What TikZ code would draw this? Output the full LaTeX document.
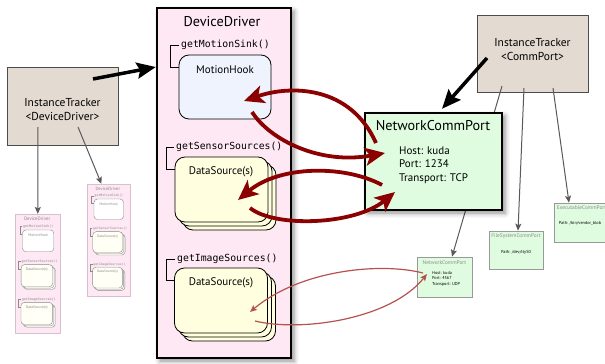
\documentclass[tikz,border=0pt]{standalone}
\usepackage{fontspec}
\setmainfont{PT Sans}
\setmonofont{DejaVu Sans Mono}
\usetikzlibrary{arrows.meta}
\usetikzlibrary{shadows.blur}
\definecolor{ddpink}{HTML}{FDE8F3}
\definecolor{hookblue}{HTML}{EEF3FD}
\definecolor{srcyellow}{HTML}{FFFFE0}
\definecolor{portgreen}{HTML}{E0FCE0}
\definecolor{trackbeige}{HTML}{E3DBD2}
\definecolor{darkred}{HTML}{8B0000}
\definecolor{softred}{HTML}{B5524F}
\definecolor{minigray}{HTML}{8A8A8A}
\definecolor{minipink}{HTML}{D9BFD0}
\tikzstyle{ddframe} = [draw, line width=2.4pt, fill=ddpink, minimum width=134pt, minimum height=350pt, inner sep=0pt]
\tikzstyle{ddtitle} = [font=\fontsize{14.2}{16}\selectfont, inner sep=0pt]
\tikzstyle{ddcall} = [font=\ttfamily\fontsize{9.8}{11}\selectfont, anchor=west, inner sep=2pt]
\tikzstyle{ddlabel} = [font=\fontsize{11}{13}\selectfont, inner sep=0pt]
\tikzstyle{ddhook} = [draw, line width=0.8pt, fill=hookblue, rounded corners=10pt, minimum width=92pt, minimum height=64pt, inner sep=0pt]
\tikzstyle{ddsrc} = [draw, line width=0.8pt, fill=srcyellow, rounded corners=10pt, minimum width=93pt, minimum height=65pt, inner sep=0pt]
\tikzstyle{ddbracket} = [line width=0.8pt]
\tikzstyle{tracker} = [draw=black!70, line width=0.8pt, fill=trackbeige, minimum width=111pt, minimum height=78pt, inner sep=0pt]
\tikzstyle{tracktext} = [font=\fontsize{11.5}{14}\selectfont, align=center, inner sep=0pt]
\tikzstyle{portbox} = [draw, line width=2.4pt, fill=portgreen, minimum width=137pt, minimum height=97pt, inner sep=0pt, blur shadow={shadow xshift=3pt, shadow yshift=-3pt, shadow blur radius=5pt, shadow opacity=45}]
\tikzstyle{porttext} = [font=\fontsize{11}{13.5}\selectfont, align=left, anchor=west, inner sep=0pt]
\tikzstyle{smallport} = [draw=black!40, line width=0.6pt, fill=portgreen, inner sep=0pt]
\tikzstyle{smalltitle} = [font=\fontsize{5.4}{6}\selectfont, text=black!45, inner sep=0pt]
\tikzstyle{smalltext} = [font=\fontsize{4.3}{5.5}\selectfont, align=left, inner sep=0pt]
\tikzstyle{owner} = [line width=3.5pt, -{Stealth[length=19pt,width=16pt,inset=3pt]}]
\tikzstyle{flow} = [line width=3.8pt, darkred, -{Stealth[length=20pt,width=18pt,inset=5pt]}]
\tikzstyle{thinflow} = [line width=1.2pt, softred, -{Stealth[length=7pt,width=6pt,inset=1.5pt]}]
\tikzstyle{member} = [line width=1pt, black!65, -{Stealth[length=7pt,width=6pt,inset=1.5pt]}]
% one DeviceDriver, drawn from its top left corner
\newcommand{\devicedriver}[1]{%
  \node[ddframe] (#1frame) at (67,175) {};
  \node[ddtitle] (#1title) at (65,14) {DeviceDriver};
  % motion sink
  \node[ddcall] (#1sinkcall) at (22,37) {getMotionSink()};
  \node[ddhook] (#1hook) at (68,79) {};
  \node[ddlabel] (#1hooklabel) at (68,62) {MotionHook};
  \draw[ddbracket] (#1sinkcall.west) -| ([xshift=-8pt,yshift=-13pt]#1hook.north west) -- ([yshift=-13pt]#1hook.north west);
  % sensor sources
  \node[ddcall] (#1sensorcall) at (17,139) {getSensorSources()};
  \node[ddsrc] (#1sensorC) at (72.5,189.5) {};
  \node[ddsrc] (#1sensorB) at (68.5,185.5) {};
  \node[ddsrc] (#1sensor) at (64.5,181.5) {};
  \node[ddlabel] (#1sensorlabel) at (64,164) {DataSource(s)};
  \draw[ddbracket] (#1sensorcall.west) -| ([xshift=-8pt,yshift=-13pt]#1sensor.north west) -- ([yshift=-13pt]#1sensor.north west);
  % image sources
  \node[ddcall] (#1imagecall) at (18,251) {getImageSources()};
  \node[ddsrc] (#1imageC) at (72,300.5) {};
  \node[ddsrc] (#1imageB) at (68,296.5) {};
  \node[ddsrc] (#1image) at (64,292.5) {};
  \node[ddlabel] (#1imagelabel) at (64,275) {DataSource(s)};
  \draw[ddbracket] (#1imagecall.west) -| ([xshift=-8pt,yshift=-13pt]#1image.north west) -- ([yshift=-13pt]#1image.north west);
}
\tikzstyle{mini} = [transform shape,
  ddframe/.append style={draw=minipink, line width=0.6pt},
  ddtitle/.append style={text=minigray},
  ddcall/.append style={text=minigray},
  ddlabel/.append style={text=minigray},
  ddhook/.append style={draw=minigray, line width=0.4pt, fill=white, rounded corners=3.4pt},
  ddsrc/.append style={draw=minigray, line width=0.4pt, fill=srcyellow!30, rounded corners=3.4pt},
  ddbracket/.style={draw=minigray, line width=0.3pt}]

\begin{document}
\begin{tikzpicture}[x=1pt,y=-1pt]
\useasboundingbox (0,0) rectangle (605,364);
% trackers
\node[tracker] (trackdd) at (62.5,106) {};
\node[tracktext] (trackddlabel) at (62.5,110) {InstanceTracker\\<DeviceDriver>};
\node[tracker, minimum height=77pt] (trackcomm) at (532.5,53.5) {};
\node[tracktext] (trackcommlabel) at (532.5,50) {InstanceTracker\\<CommPort>};
% small instances
\begin{scope}[shift={(15,214)}, scale=0.34, mini]
  \devicedriver{miniA}
\end{scope}
\begin{scope}[shift={(87,184)}, scale=0.32, mini]
  \devicedriver{miniB}
\end{scope}
\node[smallport, minimum width=55pt, minimum height=40pt] (udpport) at (444.5,277) {};
\node[smalltitle] (udptitle) at (444.5,263) {NetworkCommPort};
\node[smalltext, anchor=west] (udptext) at (432,278.5) {Host: kuda\\Port: 4567\\Transport: UDP};
\node[smallport, minimum width=54pt, minimum height=38pt] (fileport) at (516,250) {};
\node[smalltitle] (filetitle) at (516,236) {FileSystemCommPort};
\node[smalltext] (filetext) at (516,252) {Path: /dev/ttyS0};
\node[smallport, minimum width=56pt, minimum height=39pt] (execport) at (582,222.5) {};
\node[smalltitle] (exectitle) at (581.5,208) {ExecutableCommPort};
\node[smalltext] (exectext) at (580,223) {Path: /bin/vendor\_blob};
% tracker members
\coordinate (ddfirst) at ([xshift=-24.5pt,yshift=-21pt]trackdd.center);
\coordinate (ddsecond) at ([xshift=15.5pt,yshift=-21pt]trackdd.center);
\coordinate (commfirst) at ([xshift=-30.5pt,yshift=-32.5pt]trackcomm.center);
\coordinate (commsecond) at ([xshift=-8.5pt,yshift=-34.5pt]trackcomm.center);
\coordinate (commthird) at ([xshift=20.5pt,yshift=-34.5pt]trackcomm.center);
\draw[member] (ddfirst) -- (miniAframe.north);
\draw[member] (ddsecond) -- ([xshift=-7pt]miniBframe.north);
\draw[member] (commfirst) -- ([xshift=7.5pt]udpport.north);
\draw[member] (commsecond) -- ([xshift=2pt]fileport.north);
\draw[member] (commthird) -- ([xshift=-13pt]execport.north);
% the DeviceDriver
\begin{scope}[shift={(157,8)}, ddframe/.append style={blur shadow={shadow xshift=3pt, shadow yshift=-3pt, shadow blur radius=5pt, shadow opacity=45}}]
  \devicedriver{big}
\end{scope}
% the NetworkCommPort
\node[portbox] (tcpport) at (433.5,161.5) {};
\node[ddtitle] (tcptitle) at (433,126) {NetworkCommPort};
\node[porttext] (tcptext) at (399,165) {Host: kuda\\Port: 1234\\Transport: TCP};
% owners
\coordinate (ddowner) at ([xshift=30.5pt,yshift=27pt]trackdd.center);
\coordinate (commowner) at ([xshift=-45.5pt,yshift=-4.5pt]trackcomm.center);
\draw[owner] (ddowner) -- ([yshift=116pt]bigframe.west);
\draw[owner] (commowner) -- ([xshift=8.5pt,yshift=3pt]tcpport.north);
% data flow
\coordinate (tcpout1) at ([xshift=-57.5pt,yshift=18.5pt]tcpport.center);
\coordinate (tcpin1) at ([xshift=-48.5pt,yshift=8.5pt]tcpport.center);
\coordinate (tcpout2) at ([xshift=-51.5pt,yshift=-23.5pt]tcpport.center);
\coordinate (tcpin2) at ([xshift=-38.5pt,yshift=-30.5pt]tcpport.center);
\coordinate (hookin) at ([xshift=19pt,yshift=-14pt]bighook.center);
\coordinate (hookout) at ([xshift=27pt,yshift=-25pt]bighook.center);
\coordinate (sensorin) at ([xshift=16.5pt,yshift=-10.5pt]bigsensor.center);
\coordinate (sensorout) at ([xshift=28.5pt,yshift=-18.5pt]bigsensor.center);
\coordinate (imagein) at ([xshift=29pt,yshift=-11.5pt]bigimage.center);
\coordinate (imageout) at ([xshift=34pt,yshift=-20.5pt]bigimage.center);
\coordinate (udpout) at ([xshift=-21.5pt,yshift=4pt]udpport.center);
\coordinate (udpin) at ([xshift=-17.5pt,yshift=3pt]udpport.center);
\draw[flow] (tcpout1) .. controls (350,85) and (290,85) .. (hookin);
\draw[flow] (hookout) .. controls (270,140) and (320,165) .. (tcpin1);
\draw[flow] (tcpout2) .. controls (345,165) and (280,165) .. (sensorin);
\draw[flow] (sensorout) .. controls (275,228) and (355,225) .. (tcpin2);
\draw[thinflow] (udpout) .. controls (380,262) and (300,270) .. (imagein);
\draw[thinflow] (imageout) .. controls (300,332) and (390,320) .. (udpin);
\end{tikzpicture}
\end{document}
